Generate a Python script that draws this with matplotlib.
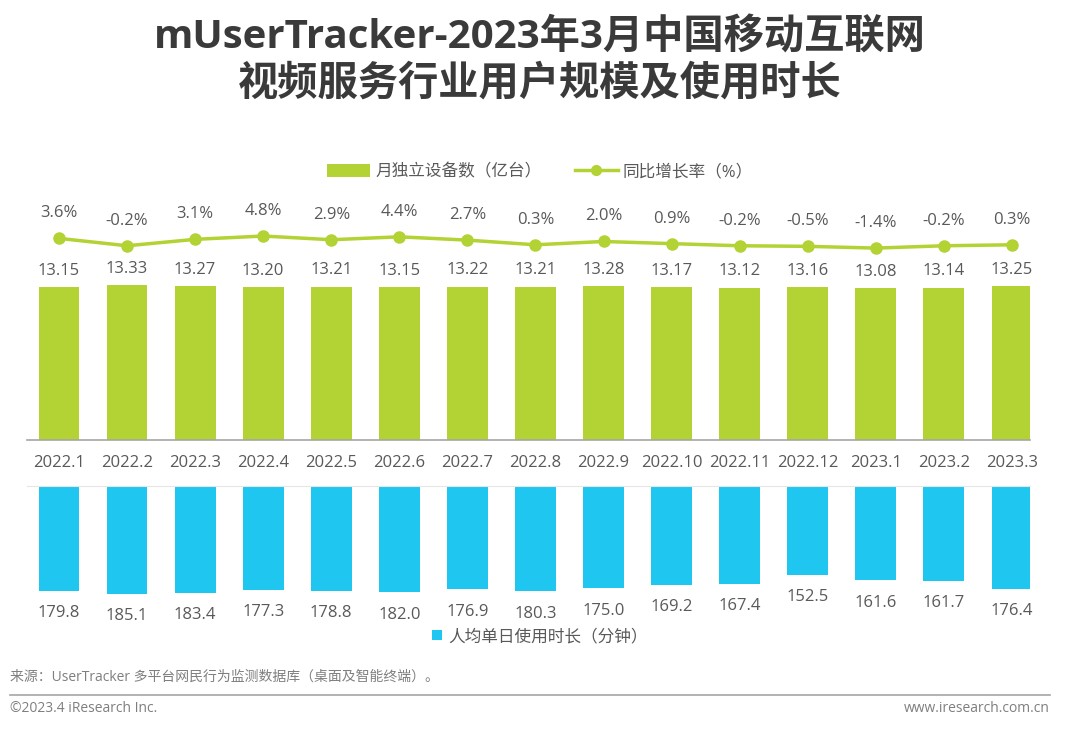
import matplotlib

matplotlib.use("Agg")
import matplotlib.pyplot as plt
from matplotlib.lines import Line2D
from matplotlib.patches import Patch

plt.rcParams["font.family"] = ["Open Sans", "Noto Sans CJK SC", "DejaVu Sans"]

months = ["2022.1", "2022.2", "2022.3", "2022.4", "2022.5", "2022.6", "2022.7", "2022.8",
          "2022.9", "2022.10", "2022.11", "2022.12", "2023.1", "2023.2", "2023.3"]
devices = [13.15, 13.33, 13.27, 13.20, 13.21, 13.15, 13.22, 13.21,
           13.28, 13.17, 13.12, 13.16, 13.08, 13.14, 13.25]
growth = [3.6, -0.2, 3.1, 4.8, 2.9, 4.4, 2.7, 0.3, 2.0, 0.9, -0.2, -0.5, -1.4, -0.2, 0.3]
minutes = [179.8, 185.1, 183.4, 177.3, 178.8, 182.0, 176.9, 180.3,
           175.0, 169.2, 167.4, 152.5, 161.6, 161.7, 176.4]

GREEN = "#B3D234"
BLUE = "#1FC6F0"
TEXT = "#595959"
TITLE = "#3A3A3A"

W, H = 1080, 730
fig = plt.figure(figsize=(W / 100, H / 100), dpi=100)


def frac_box(left_px, top_px, right_px, bottom_px):
    return [left_px / W, 1 - bottom_px / H, (right_px - left_px) / W, (bottom_px - top_px) / H]


x = list(range(len(months)))
xlim = (-0.47, 14.265)

# top panel: device bars
ax_top = fig.add_axes(frac_box(27, 230, 1030, 440))
ax_top.bar(x, devices, width=0.6, color=GREEN)
ax_top.set_xlim(*xlim)
ax_top.set_ylim(0, 18.1)
for xi, v in zip(x, devices):
    ax_top.annotate(f"{v:.2f}", (xi, v), xytext=(0, 6), textcoords="offset points",
                    ha="center", va="bottom", fontsize=12, color=TEXT)
for s in ["top", "left", "right"]:
    ax_top.spines[s].set_visible(False)
ax_top.spines["bottom"].set_color("#A6A6A6")
ax_top.spines["bottom"].set_linewidth(1.2)
ax_top.set_yticks([])
ax_top.set_xticks(x)
ax_top.set_xticklabels(months, fontsize=12, color=TEXT)
ax_top.tick_params(axis="x", length=0, pad=11)

# growth line on a twin axis
ax_line = ax_top.twinx()
ax_line.plot(x, growth, color=GREEN, linewidth=2.5, marker="o", markersize=8)
ax_line.set_ylim(-100, 7.9)
ax_line.set_xlim(*xlim)
ax_line.axis("off")
for xi, v in zip(x, growth):
    ax_line.annotate(f"{v:.1f}%", (xi, v), xytext=(0, 18), textcoords="offset points",
                     ha="center", va="center", fontsize=12, color=TEXT)

# bottom panel: minutes bars hanging down
ax_bot = fig.add_axes(frac_box(27, 486, 1030, 600))
ax_bot.bar(x, minutes, width=0.6, color=BLUE)
ax_bot.set_xlim(*xlim)
ax_bot.set_ylim(195, 0)
for xi, v in zip(x, minutes):
    ax_bot.annotate(f"{v:.1f}", (xi, v), xytext=(0, -16), textcoords="offset points",
                    ha="center", va="center", fontsize=12, color=TEXT)
for s in ["bottom", "left", "right"]:
    ax_bot.spines[s].set_visible(False)
ax_bot.spines["top"].set_color("#E6E6E6")
ax_bot.set_xticks([])
ax_bot.set_yticks([])

# title
fig.text(0.5, 1 - 38 / H, "mUserTracker-2023年3月中国移动互联网", ha="center", va="center",
         fontsize=29, fontweight="bold", color=TITLE)
fig.text(0.5, 1 - 84 / H, "视频服务行业用户规模及使用时长", ha="center", va="center",
         fontsize=29, fontweight="bold", color=TITLE)

# legends
top_handles = [
    Patch(facecolor=GREEN, label="月独立设备数（亿台）"),
    Line2D([], [], color=GREEN, linewidth=2.5, marker="o", markersize=7, label="同比增长率（%）"),
]
fig.legend(handles=top_handles, loc="center", bbox_to_anchor=(0.5, 1 - 172 / H), ncol=2,
           frameon=False, fontsize=12, labelcolor=TEXT, handlelength=2.6, handleheight=0.8,
           handletextpad=0.3, columnspacing=2.0)
fig.legend(handles=[Patch(facecolor=BLUE, label="人均单日使用时长（分钟）")], loc="center",
           bbox_to_anchor=(0.5, 1 - 637 / H), frameon=False, fontsize=12, labelcolor=TEXT,
           handlelength=0.6, handleheight=0.6, handletextpad=0.4)

# footer
fig.text(10 / W, 1 - 677 / H, "来源：UserTracker 多平台网民行为监测数据库（桌面及智能终端）。",
         ha="left", va="center", fontsize=10, color="#7F7F7F")
fig.add_artist(Line2D([10 / W, 1050 / W], [1 - 695 / H, 1 - 695 / H], color="#A6A6A6",
                      linewidth=1.2, transform=fig.transFigure))
fig.text(10 / W, 1 - 709 / H, "©2023.4 iResearch Inc.", ha="left", va="center",
         fontsize=10, color="#7F7F7F")
fig.text(1050 / W, 1 - 709 / H, "www.iresearch.com.cn", ha="right", va="center",
         fontsize=10, color="#7F7F7F")

fig.savefig("out.png", dpi=100)
